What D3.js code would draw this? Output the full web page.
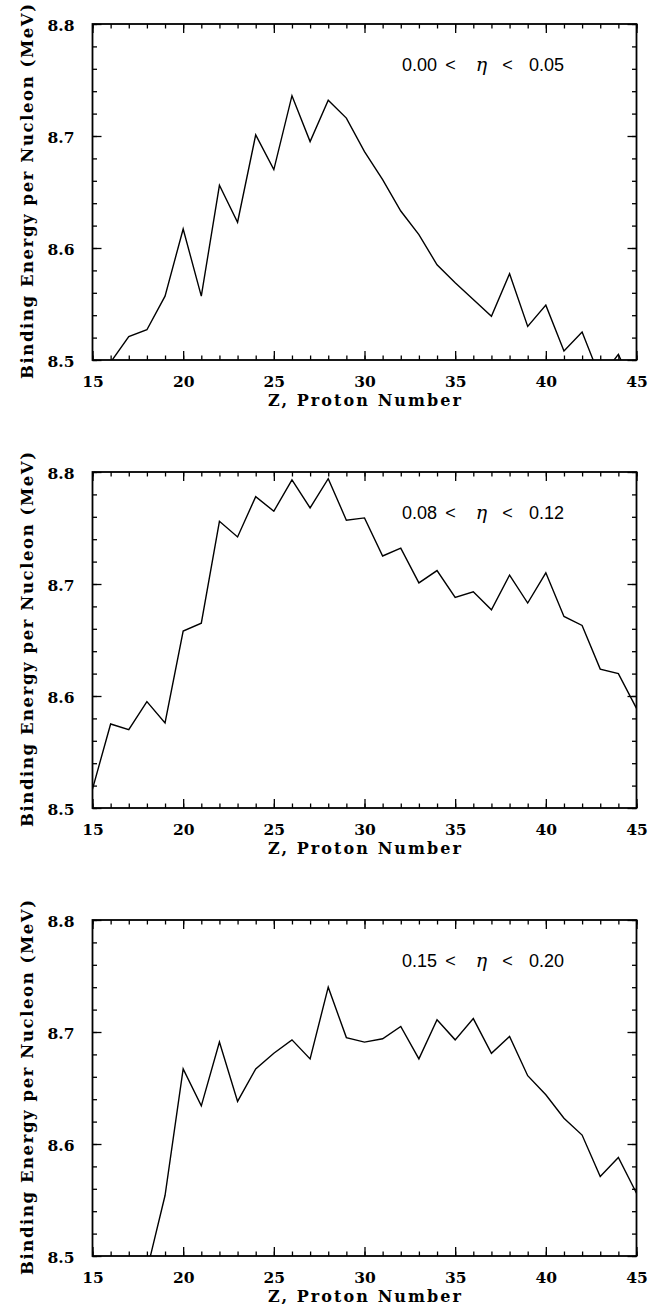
<!DOCTYPE html>
<html><head><meta charset="utf-8">
<script src="https://cdn.jsdelivr.net/npm/d3@7"></script>
<style>
body{margin:0;background:#fff;}
svg{display:block;}
</style></head>
<body>
<svg id="chart" width="662" height="1304"></svg>
<script>
// ---- data ----
const z1 = [16,17,18,19,20,21,22,23,24,25,26,27,28,29,30,31,32,33,34,35,36,37,38,39,40,41,42,43,44,45];
const be1 = [8.498,8.521,8.527,8.557,8.617,8.557,8.656,8.623,8.701,8.670,8.736,8.695,8.732,8.716,8.686,8.661,8.633,8.612,8.585,8.569,8.554,8.539,8.577,8.530,8.549,8.508,8.525,8.484,8.505,8.470];
const z2 = [15,16,17,18,19,20,21,22,23,24,25,26,27,28,29,30,31,32,33,34,35,36,37,38,39,40,41,42,43,44,45];
const be2 = [8.517,8.575,8.570,8.595,8.576,8.658,8.665,8.756,8.742,8.778,8.765,8.793,8.768,8.794,8.757,8.759,8.725,8.732,8.701,8.712,8.688,8.693,8.677,8.708,8.683,8.710,8.671,8.663,8.624,8.620,8.589];
const z3 = [18,19,20,21,22,23,24,25,26,27,28,29,30,31,32,33,34,35,36,37,38,39,40,41,42,43,44,45];
const be3 = [8.487,8.554,8.667,8.634,8.691,8.638,8.667,8.681,8.693,8.676,8.740,8.695,8.691,8.694,8.705,8.676,8.711,8.693,8.712,8.681,8.696,8.661,8.644,8.623,8.608,8.571,8.588,8.556];
const etaLow = ["0.00","0.08","0.15"];
const etaHigh = ["0.05","0.12","0.20"];
const xTicks = [15,20,25,30,35,40,45];
const yTicks = [8.5,8.6,8.7,8.8];
const xTitle = "Z, Proton Number";
const yTitle = "Binding Energy per Nucleon (MeV)";

const panels = [
  {z:z1, be:be1, lo:etaLow[0], hi:etaHigh[0], top:24},
  {z:z2, be:be2, lo:etaLow[1], hi:etaHigh[1], top:472},
  {z:z3, be:be3, lo:etaLow[2], hi:etaHigh[2], top:920}
];

const svg = d3.select("#chart");
const left = 92.5, right = 636.5, ph = 336;
const x = d3.scaleLinear().domain([15,45]).range([left,right]);
const serif = "'DejaVu Serif','Liberation Serif',serif";
const sans = "'Liberation Sans',Arial,sans-serif";

panels.forEach((p,i)=>{
  const top = p.top, bottom = top+ph;
  const y = d3.scaleLinear().domain([8.5,8.8]).range([bottom,top]);
  const g = svg.append("g");

  g.append("clipPath").attr("id","clip"+i).append("rect")
    .attr("x",left).attr("y",top).attr("width",right-left).attr("height",ph);

  // data line
  const line = d3.line().x((d,k)=>x(p.z[k])).y(d=>y(d));
  g.append("path").datum(p.be).attr("d",line)
    .attr("fill","none").attr("stroke","#000").attr("stroke-width",1.4)
    .attr("stroke-linejoin","miter")
    .attr("clip-path","url(#clip"+i+")");

  // axes (ticks on all four sides, inward)
  const xMinor = d3.range(15,46,1);
  const yMinor = d3.range(0,16).map(k=>+(8.5+k*0.02).toFixed(2));
  const bottomAx = d3.axisBottom(x).tickValues(xMinor).tickSize(-4.5).tickFormat("");
  const bottomMaj = d3.axisBottom(x).tickValues(xTicks).tickSize(-9).tickFormat(d3.format("d"));
  const topAx = d3.axisTop(x).tickValues(xMinor).tickSize(-4.5).tickFormat("");
  const topMaj = d3.axisTop(x).tickValues(xTicks).tickSize(-9).tickFormat("");
  const leftAx = d3.axisLeft(y).tickValues(yMinor).tickSize(-4.5).tickFormat("");
  const leftMaj = d3.axisLeft(y).tickValues(yTicks).tickSize(-9).tickFormat(d3.format(".1f"));
  const rightAx = d3.axisRight(y).tickValues(yMinor).tickSize(-4.5).tickFormat("");
  const rightMaj = d3.axisRight(y).tickValues(yTicks).tickSize(-9).tickFormat("");

  g.append("g").attr("transform",`translate(0,${bottom})`).call(bottomAx);
  const gbm = g.append("g").attr("transform",`translate(0,${bottom})`).call(bottomMaj);
  gbm.selectAll("text").attr("y",27).attr("dy",null)
    .attr("font-family",serif).attr("font-weight","bold").attr("font-size","15.5px").attr("fill","#000");
  g.append("g").attr("transform",`translate(0,${top})`).call(topAx);
  g.append("g").attr("transform",`translate(0,${top})`).call(topMaj);
  g.append("g").attr("transform",`translate(${left},0)`).call(leftAx);
  const glm = g.append("g").attr("transform",`translate(${left},0)`).call(leftMaj);
  glm.selectAll("text").attr("x",-18).attr("dy","0.45em")
    .attr("font-family",serif).attr("font-weight","bold").attr("font-size","15.5px").attr("fill","#000");
  g.append("g").attr("transform",`translate(${right},0)`).call(rightAx);
  g.append("g").attr("transform",`translate(${right},0)`).call(rightMaj);

  g.selectAll(".domain").remove();
  g.selectAll(".tick line").attr("stroke","#000").attr("stroke-width",1.3);

  // frame
  g.append("rect").attr("x",left).attr("y",top).attr("width",right-left).attr("height",ph)
    .attr("fill","none").attr("stroke","#000").attr("stroke-width",1.8);

  // titles
  g.append("text").attr("x",(left+right)/2).attr("y",bottom+46)
    .attr("text-anchor","middle").attr("font-family",serif).attr("font-weight","bold")
    .attr("font-size","16px").attr("textLength",193).attr("lengthAdjust","spacing")
    .text(xTitle);
  g.append("text").attr("transform",`translate(33,${top+ph/2-0.5}) rotate(-90)`)
    .attr("text-anchor","middle").attr("font-family",serif).attr("font-weight","bold")
    .attr("font-size","16.5px").attr("textLength",375).attr("lengthAdjust","spacing")
    .text(yTitle);

  // annotation
  const ann = g.append("text").attr("y",top+46.5).attr("font-family",sans).attr("font-size","18px").attr("text-anchor","middle");
  ann.append("tspan").attr("x",left+327).text(p.lo);
  ann.append("tspan").attr("x",left+358).text("<");
  ann.append("tspan").attr("x",left+389).attr("font-family",serif).attr("font-style","italic").attr("font-size","19px").text("η");
  ann.append("tspan").attr("x",left+415).text("<");
  ann.append("tspan").attr("x",left+454).text(p.hi);
});
</script>
</body></html>
